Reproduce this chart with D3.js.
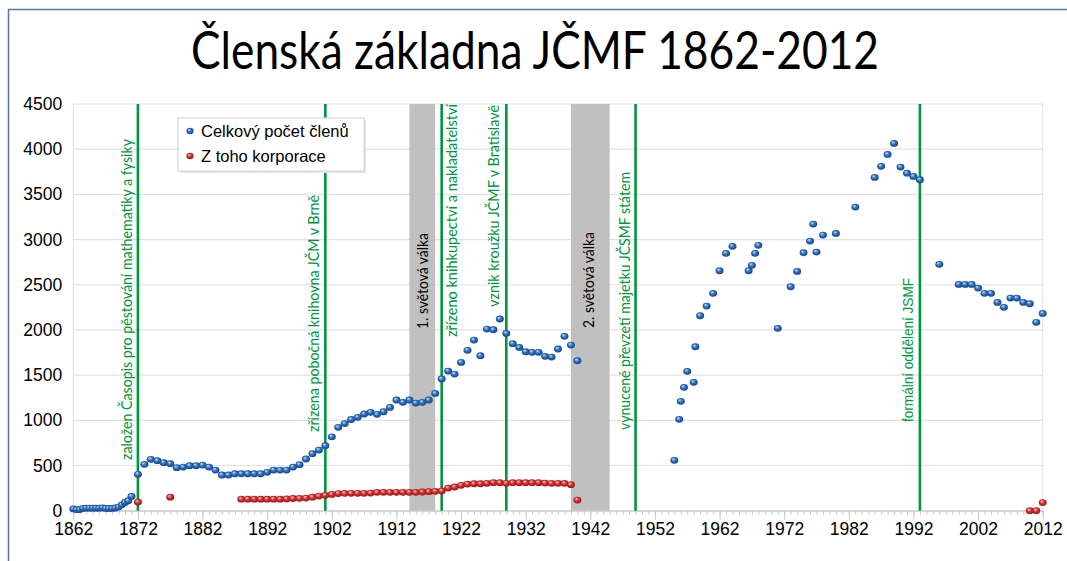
<!DOCTYPE html>
<html>
<head>
<meta charset="utf-8">
<script src="https://cdn.jsdelivr.net/npm/d3@7"></script>
<style>
  html, body { margin: 0; padding: 0; background: #fff; }
  svg { display: block; }
</style>
</head>
<body>
<svg id="chart" width="1067" height="561"></svg>
<script>
// ---------------- DATA ----------------
const titleText = "Členská základna JČMF 1862-2012";
const seriesNames = ["Celkový počet členů", "Z toho korporace"];

const memberYears = [
  1862, 1862.5, 1863, 1863.5, 1864, 1864.5, 1865, 1865.5, 1866, 1866.5,
  1867, 1867.5, 1868, 1868.5, 1869, 1869.5, 1870, 1870.5, 1871,
  1872, 1873, 1874, 1875, 1876, 1877, 1878, 1879, 1880, 1881,
  1882, 1883, 1884, 1885, 1886, 1887, 1888, 1889, 1890, 1891,
  1892, 1893, 1894, 1895, 1896, 1897, 1898, 1899, 1900, 1901,
  1902, 1903, 1904, 1905, 1906, 1907, 1908, 1909, 1910, 1911,
  1912, 1913, 1914, 1915, 1916, 1917, 1918, 1919, 1920, 1921,
  1922, 1923, 1924, 1925, 1926, 1927, 1928, 1929, 1930, 1931,
  1932, 1933, 1934, 1935, 1936, 1937, 1938, 1939, 1940,
  1955, 1955.75, 1956, 1956.5, 1957, 1958, 1958.25,
  1959, 1960, 1961, 1962, 1963, 1964, 1966.5, 1967, 1967.5, 1968,
  1971, 1973, 1974, 1975, 1976, 1976.5, 1977, 1978, 1980, 1983,
  1986, 1987, 1988, 1989, 1990, 1991, 1992, 1993, 1996,
  1999, 2000, 2001, 2002, 2003, 2004, 2005, 2006, 2007, 2008,
  2009, 2010, 2011, 2012
];
const memberCounts = [
  20, 12, 12, 25, 28, 28, 28, 28, 28, 32,
  25, 25, 25, 30, 40, 65, 92, 110, 158,
  403, 513, 569, 553, 531, 520, 476, 483, 498, 498,
  505, 483, 450, 395, 395, 409, 409, 409, 409, 409,
  425, 450, 450, 450, 483, 509, 572, 631, 671, 719,
  817, 922, 964, 1009, 1033, 1070, 1088, 1066, 1095, 1143,
  1225, 1199, 1225, 1191, 1199, 1225, 1298, 1457, 1545, 1512,
  1641, 1774, 1888, 1715, 2010, 2002, 2121, 1962, 1848, 1807,
  1759, 1752, 1752, 1708, 1700, 1789, 1929, 1833, 1659,
  557, 1011, 1210, 1365, 1542, 1420, 1814,
  2157, 2264, 2405, 2655, 2847, 2925, 2655, 2715, 2847, 2936,
  2018, 2478, 2648, 2854, 2983, 3171, 2862, 3050, 3068, 3359,
  3688, 3810, 3942, 4064, 3802, 3735, 3699, 3662, 2726,
  2504, 2504, 2504, 2463, 2405, 2405, 2305, 2250, 2353, 2353,
  2305, 2290, 2084, 2183
];

const corpYears = [
  1872, 1877,
  1888, 1889, 1890, 1891, 1892, 1893, 1894, 1895, 1896, 1897,
  1898, 1899, 1900, 1901, 1902, 1903, 1904, 1905, 1906, 1907,
  1908, 1909, 1910, 1911, 1912, 1913, 1914, 1915, 1916, 1917,
  1918, 1919, 1920, 1921, 1922, 1923, 1924, 1925, 1926, 1927,
  1928, 1929, 1930, 1931, 1932, 1933, 1934, 1935, 1936, 1937,
  1938, 1939, 1940,
  2010, 2011, 2012
];
const corpCounts = [
  95, 150,
  128, 128, 128, 128, 128, 128, 128, 130, 135, 137,
  140, 150, 162, 170, 180, 190, 192, 192, 192, 192,
  195, 203, 203, 203, 203, 203, 203, 203, 207, 210,
  214, 218, 250, 262, 281, 295, 298, 298, 303, 310,
  310, 303, 310, 310, 310, 310, 310, 306, 303, 303,
  303, 288, 118,
  0, 0, 90
];

const eventYears = [1872, 1901, 1919, 1929, 1949, 1993];
const eventLabels = [
  "založen Časopis pro pěstování mathematiky a fysiky",
  "zřízena pobočná knihovna JČM v Brně",
  "zřízeno knihkupectví a nakladatelství",
  "vznik kroužku JČMF v Bratislavě",
  "vynucené převzetí majetku JČSMF státem",
  "formální oddělení JSMF"
];
const warStart = [1914, 1939];
const warEnd = [1918, 1945];
const warLabels = ["1. světová válka", "2. světová válka"];

const xTickYears = d3.range(1862, 2013, 10);
const xMinorYears = d3.range(1862, 2013, 1);
const yTickValues = d3.range(0, 4501, 500);

// ---------------- LAYOUT ----------------
const W = 1067, H = 561;
const plot = { left: 73.3, right: 1042.7, top: 104, bottom: 510.7 };
// rotated label layout: [baseline offset from line, bottom y, top y]
const eventLabelBaseline = [-6, -6.5, 15, -7, -6, -7];
const eventLabelBottom = [460, 432, 337, 307, 430, 422];
const eventLabelTop = [139, 195, 104, 105, 172, 278];
const warLabelBaseline = [5.5, 3.5];
const warLabelBottom = [329, 328];
const warLabelTop = [233, 232];

const GREEN = "#00963c";

const svg = d3.select("#chart");

// gradients for spherical markers
const defs = svg.append("defs");
function sphere(id, c0, c1, c2) {
  const g = defs.append("radialGradient").attr("id", id)
    .attr("cx", "50%").attr("cy", "50%").attr("r", "60%")
    .attr("fx", "35%").attr("fy", "30%");
  g.append("stop").attr("offset", "0%").attr("stop-color", c0);
  g.append("stop").attr("offset", "45%").attr("stop-color", c1);
  g.append("stop").attr("offset", "100%").attr("stop-color", c2);
}
sphere("gBlue", "#cfe2ff", "#2f6fbf", "#0d3a78");
sphere("gRed", "#ffd0d0", "#d43030", "#8a0f0f");

// slide frame
svg.append("line").attr("x1", 8.5).attr("x2", 8.5).attr("y1", 9).attr("y2", H)
  .attr("stroke", "#5574aa").attr("stroke-width", 1.5);
svg.append("line").attr("x1", 8).attr("x2", W).attr("y1", 9.5).attr("y2", 9.5)
  .attr("stroke", "#5574aa").attr("stroke-width", 1.5);

// title
svg.append("text")
  .attr("x", 535).attr("y", 69)
  .attr("text-anchor", "middle")
  .attr("font-family", "Lato, 'Open Sans', sans-serif")
  .attr("font-size", 52)
  .attr("textLength", 688)
  .attr("lengthAdjust", "spacingAndGlyphs")
  .attr("fill", "#000")
  .text(titleText);

const x = d3.scaleLinear().domain([1862, 2012]).range([plot.left, plot.right]);
const y = d3.scaleLinear().domain([0, 4500]).range([plot.bottom, plot.top]);

// gridlines
svg.append("g").selectAll("line").data(yTickValues).join("line")
  .attr("x1", plot.left).attr("x2", plot.right)
  .attr("y1", d => y(d)).attr("y2", d => y(d))
  .attr("stroke", "#e2e2e2").attr("stroke-width", 1.2);
// left and right plot border
svg.append("line").attr("x1", plot.left).attr("x2", plot.left)
  .attr("y1", plot.top).attr("y2", plot.bottom).attr("stroke", "#e2e2e2");
svg.append("line").attr("x1", plot.right).attr("x2", plot.right)
  .attr("y1", plot.top).attr("y2", plot.bottom).attr("stroke", "#e2e2e2");

// war bands
svg.append("g").selectAll("rect").data(warStart).join("rect")
  .attr("x", (d) => x(d))
  .attr("width", (d, i) => x(warEnd[i]) - x(d))
  .attr("y", plot.top).attr("height", plot.bottom - plot.top)
  .attr("fill", "#c0c0c0");

// x axis: minor and major ticks
const xAxisMinor = d3.axisBottom(x).tickValues(xMinorYears).tickSize(4).tickFormat("");
const gxm = svg.append("g").attr("transform", `translate(0,${plot.bottom})`).call(xAxisMinor);
gxm.select(".domain").attr("stroke", "#c8c8c8");
gxm.selectAll(".tick line").attr("stroke", "#c8c8c8");

const xAxis = d3.axisBottom(x).tickValues(xTickYears).tickSize(9).tickPadding(6).tickFormat(d3.format("d"));
const gx = svg.append("g").attr("transform", `translate(0,${plot.bottom})`).call(xAxis);
gx.select(".domain").remove();
gx.selectAll(".tick line").attr("stroke", "#c8c8c8");
gx.selectAll(".tick text")
  .attr("font-family", "Arial, 'Liberation Sans', sans-serif")
  .attr("font-size", 17.5).attr("fill", "#000").attr("dy", "0.55em");

// y axis
const yAxis = d3.axisLeft(y).tickValues(yTickValues).tickSize(0).tickPadding(11).tickFormat(d3.format("d"));
const gy = svg.append("g").attr("transform", `translate(${plot.left},0)`).call(yAxis);
gy.select(".domain").remove();
gy.selectAll(".tick text")
  .attr("font-family", "Arial, 'Liberation Sans', sans-serif")
  .attr("font-size", 17.5).attr("fill", "#000");

// event lines
svg.append("g").selectAll("line").data(eventYears).join("line")
  .attr("x1", d => x(d)).attr("x2", d => x(d))
  .attr("y1", plot.top).attr("y2", plot.bottom)
  .attr("stroke", GREEN).attr("stroke-width", 2.6);

// event labels
svg.append("g").selectAll("text").data(eventLabels).join("text")
  .attr("transform", (d, i) => `translate(${x(eventYears[i]) + eventLabelBaseline[i]},${eventLabelBottom[i]}) rotate(-90)`)
  .attr("font-family", (d, i) => i === 5 ? "Arial, 'Liberation Sans', sans-serif" : "Lato, 'Open Sans', sans-serif")
  .attr("font-size", 15)
  .attr("textLength", (d, i) => eventLabelBottom[i] - eventLabelTop[i])
  .attr("lengthAdjust", "spacingAndGlyphs")
  .attr("fill", GREEN)
  .text(d => d);

// war labels
svg.append("g").selectAll("text").data(warLabels).join("text")
  .attr("transform", (d, i) => `translate(${(x(warStart[i]) + x(warEnd[i])) / 2 + warLabelBaseline[i]},${warLabelBottom[i]}) rotate(-90)`)
  .attr("font-family", "Lato, 'Open Sans', sans-serif")
  .attr("font-size", 16)
  .attr("textLength", (d, i) => warLabelBottom[i] - warLabelTop[i])
  .attr("lengthAdjust", "spacingAndGlyphs")
  .attr("fill", "#000")
  .text(d => d);

// points
const members = memberYears.map((yr, i) => ({ yr, v: memberCounts[i] }));
const corps = corpYears.map((yr, i) => ({ yr, v: corpCounts[i] }));

svg.append("g").selectAll("ellipse").data(members).join("ellipse")
  .attr("cx", d => x(d.yr)).attr("cy", d => y(d.v))
  .attr("rx", 4).attr("ry", 3.4)
  .attr("fill", "url(#gBlue)");

svg.append("g").selectAll("ellipse").data(corps).join("ellipse")
  .attr("cx", d => x(d.yr)).attr("cy", d => y(d.v))
  .attr("rx", 4).attr("ry", 3.4)
  .attr("fill", "url(#gRed)");

// legend
const lg = svg.append("g");
lg.append("rect").attr("x", 180).attr("y", 120).attr("width", 186).attr("height", 53)
  .attr("fill", "#e6e6e6");
lg.append("rect").attr("x", 178).attr("y", 118).attr("width", 186).attr("height", 53)
  .attr("fill", "#fff").attr("stroke", "#d0d0d0").attr("stroke-width", 1);
const legendFills = ["url(#gBlue)", "url(#gRed)"];
seriesNames.forEach((name, i) => {
  lg.append("ellipse").attr("cx", 190).attr("cy", 131 + i * 25)
    .attr("rx", 3.6).attr("ry", 3.2).attr("fill", legendFills[i]);
  lg.append("text").attr("x", 201).attr("y", 137 + i * 25)
    .attr("font-family", "Arial, 'Liberation Sans', sans-serif")
    .attr("font-size", 16.5).attr("fill", "#000")
    .text(name);
});
</script>
</body>
</html>
